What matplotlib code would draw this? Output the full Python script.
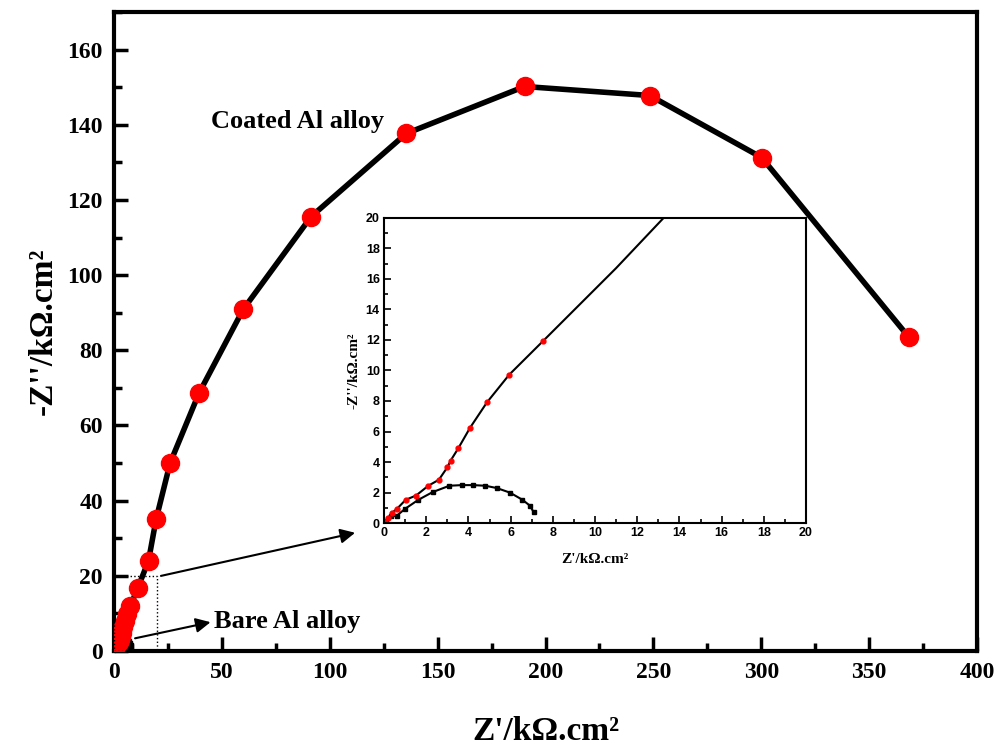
import matplotlib
matplotlib.use("Agg")
import matplotlib.pyplot as plt
from matplotlib.ticker import MultipleLocator

plt.rcParams['font.family'] = ['Liberation Serif', 'DejaVu Serif']
plt.rcParams['font.weight'] = 'bold'

# Coated Al alloy (Z', -Z'') in kOhm.cm2
coated_zre = [0.05, 0.2, 0.36, 0.6, 1.03, 1.52, 2.1, 2.6, 3.0, 3.16, 3.52, 4.08, 4.88,
              5.94, 7.52, 11.0, 16.0, 19.5, 26.0, 39.4, 59.9, 91.4, 135.5, 190.3,
              248.3, 300.2, 368.4]
coated_zim = [0.1, 0.33, 0.66, 0.92, 1.53, 1.81, 2.45, 2.84, 3.65, 4.1, 4.9, 6.25, 7.91,
              9.73, 11.9, 16.7, 24.0, 35.0, 50.0, 68.6, 90.9, 115.6, 137.7, 150.2,
              147.8, 131.3, 83.5]

# Bare Al alloy
bare_zre = [0.1, 0.35, 0.6, 1.0, 1.63, 2.3, 3.1, 3.68, 4.23, 4.8, 5.34, 5.97, 6.56, 6.92, 7.09]
bare_zim = [0.15, 0.45, 0.48, 0.94, 1.53, 2.03, 2.45, 2.49, 2.49, 2.45, 2.3, 2.0, 1.53, 1.14, 0.72]

fig = plt.figure(figsize=(10, 7.56), dpi=100)
ax = fig.add_axes([0.114, 0.139, 0.863, 0.845])

ax.plot(bare_zre, bare_zim, color='black', lw=3, marker='s', ms=6, zorder=2)
ax.plot(coated_zre, coated_zim, color='black', lw=4, zorder=3)
ax.plot(coated_zre, coated_zim, ls='none', marker='o', ms=13, mfc='red', mec='red', zorder=4)

ax.set_xlim(0, 400)
ax.set_ylim(0, 170)
ax.xaxis.set_major_locator(MultipleLocator(50))
ax.xaxis.set_minor_locator(MultipleLocator(25))
ax.yaxis.set_major_locator(MultipleLocator(20))
ax.yaxis.set_minor_locator(MultipleLocator(10))
ax.tick_params(which='both', direction='in', width=2.5, labelsize=17, pad=8)
ax.tick_params(which='major', length=10)
ax.tick_params(which='minor', length=6)
for s in ax.spines.values():
    s.set_linewidth(3)

ax.set_xlabel("Z'/kΩ.cm²", fontsize=24, fontweight='bold', labelpad=24)
ax.set_ylabel("-Z''/kΩ.cm²", fontsize=24, fontweight='bold', labelpad=6)

# zoom box and arrows
ax.plot([0, 20, 20, 0, 0], [0, 0, 20, 20, 0], color='black', ls=':', lw=1, zorder=5)
ax.annotate('', xy=(113, 31.6), xytext=(20.5, 19.8),
            arrowprops=dict(arrowstyle='-|>', color='black', lw=1.5, mutation_scale=22))
ax.annotate('', xy=(46, 7.8), xytext=(8.5, 3.2),
            arrowprops=dict(arrowstyle='-|>', color='black', lw=1.5, mutation_scale=22))
ax.text(45, 140.9, 'Coated Al alloy', fontsize=19, fontweight='bold', va='center', ha='left')
ax.text(46.5, 7.8, 'Bare Al alloy', fontsize=19, fontweight='bold', va='center', ha='left')

# inset
ins = fig.add_axes([0.384, 0.308, 0.422, 0.404])
ins.plot(bare_zre, bare_zim, color='black', lw=1.5, marker='s', ms=3.5)
ins.plot(coated_zre, coated_zim, color='black', lw=1.5)
ins.plot(coated_zre[:15], coated_zim[:15], ls='none', marker='o', ms=3.5, mfc='red', mec='red')
ins.set_xlim(0, 20)
ins.set_ylim(0, 20)
ins.xaxis.set_major_locator(MultipleLocator(2))
ins.xaxis.set_minor_locator(MultipleLocator(1))
ins.yaxis.set_major_locator(MultipleLocator(2))
ins.yaxis.set_minor_locator(MultipleLocator(1))
ins.tick_params(which='both', direction='in', width=1.2, labelsize=9, pad=3)
ins.tick_params(which='major', length=5)
ins.tick_params(which='minor', length=3)
for lab in ins.get_xticklabels() + ins.get_yticklabels():
    lab.set_family('Liberation Sans')
    lab.set_fontweight('bold')
for s in ins.spines.values():
    s.set_linewidth(1.5)
ins.set_xlabel("Z'/kΩ.cm²", fontsize=11, fontweight='bold', labelpad=10)
ins.set_ylabel("-Z''/kΩ.cm²", fontsize=11, fontweight='bold', labelpad=4)

fig.savefig("out.png", dpi=100)
